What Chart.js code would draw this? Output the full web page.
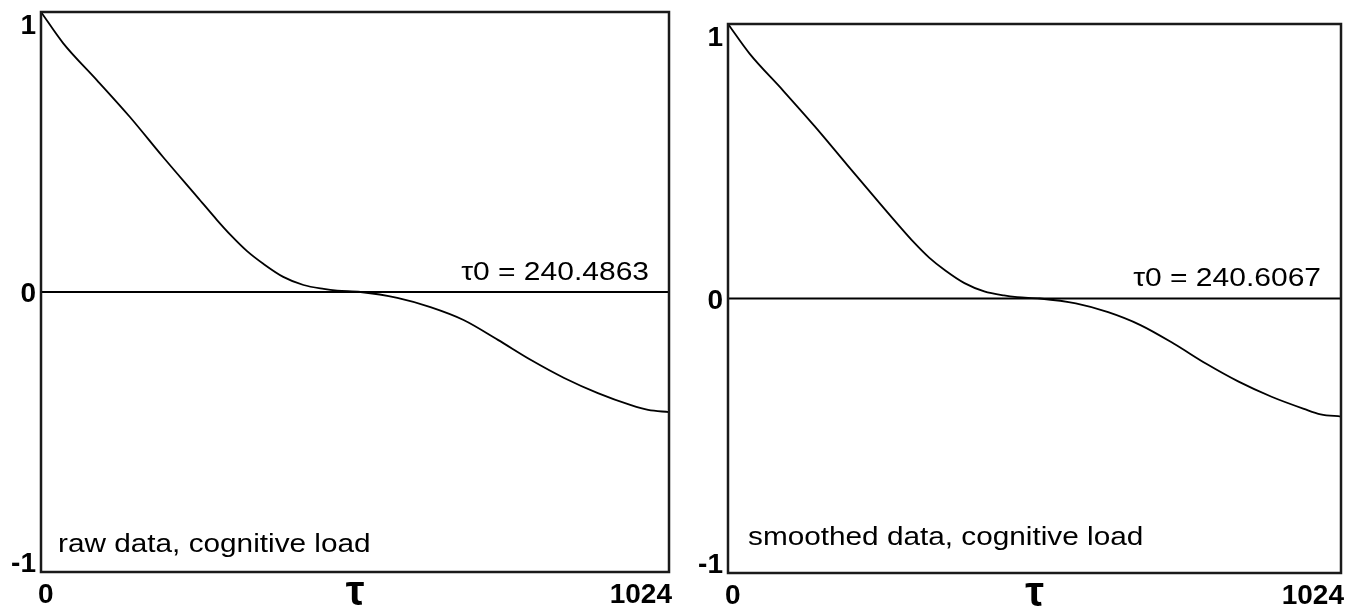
<!DOCTYPE html>
<html>
<head>
<meta charset="utf-8">
<script src="https://cdn.jsdelivr.net/npm/chart.js@4.4.1/dist/chart.umd.min.js"></script>
<style>
  body { margin: 0; background: #fff; }
  #wrap { position: relative; width: 1365px; height: 616px; }
  canvas { position: absolute; top: 0; }
  #acf-raw { left: 0; }
  #acf-smooth { left: 683px; }
</style>
</head>
<body>
<div id="wrap">
  <canvas id="acf-raw" width="700" height="616"></canvas>
  <canvas id="acf-smooth" width="682" height="616"></canvas>
</div>
<script>
// lag axis (tau) and autocorrelation values
const lagTau = [0, 36, 91, 145, 199, 255, 287, 309, 336, 363, 395, 428, 461, 483, 521, 581, 635, 689, 745, 799, 853, 908, 962, 990, 1024]
const rawAcf = [1.0, 0.889, 0.757, 0.625, 0.482, 0.339, 0.257, 0.204, 0.146, 0.100, 0.054, 0.025, 0.011, 0.005, 0.0, -0.021, -0.054, -0.1, -0.171, -0.243, -0.307, -0.361, -0.404, -0.421, -0.429]
const smoothAcf = [1.0, 0.892, 0.760, 0.627, 0.487, 0.343, 0.262, 0.208, 0.149, 0.102, 0.056, 0.026, 0.011, 0.005, 0.0, -0.018, -0.050, -0.097, -0.165, -0.238, -0.303, -0.358, -0.402, -0.422, -0.430]

const yTicks = [1, 0, -1]
const xTicks = [0, 1024]

const panels = [
    { id: 'acf-raw', values: rawAcf, tau0: 'τ0 = 240.4863', note: 'raw data, cognitive load',
      padding: { left: 41, top: 12, right: 31, bottom: 44 }, tauY: -12, noteX: 17, noteY: -20 },
    { id: 'acf-smooth', values: smoothAcf, tau0: 'τ0 = 240.6067', note: 'smoothed data, cognitive load',
      padding: { left: 45, top: 24, right: 24, bottom: 43 }, tauY: -13, noteX: 20, noteY: -28 }
]

const FONT = '"Liberation Sans", Arial, sans-serif'

// text stretched horizontally by sx
const drawText = (ctx, str, x, y, font, align, baseline, sx) => {
    ctx.save()
    ctx.translate(x, y)
    ctx.scale(sx || 1, 1)
    ctx.font = font
    ctx.textAlign = align
    ctx.textBaseline = baseline
    ctx.fillStyle = '#000'
    ctx.fillText(str, 0, 0)
    ctx.restore()
}

const framePlugin = {
    id: 'frame',
    beforeDatasetsDraw(chart, args, opts) {
        const { ctx, chartArea: a, scales: { x, y } } = chart
        ctx.save()
        // zero line
        ctx.strokeStyle = '#000'
        ctx.lineWidth = 2
        ctx.beginPath()
        ctx.moveTo(a.left, y.getPixelForValue(0))
        ctx.lineTo(a.right, y.getPixelForValue(0))
        ctx.stroke()
        ctx.restore()
    },
    afterDraw(chart, args, opts) {
        const { ctx, chartArea: a, scales: { x, y } } = chart
        ctx.save()
        ctx.strokeStyle = '#1a1a1a'
        ctx.lineWidth = 2.5
        ctx.strokeRect(a.left, a.top, a.right - a.left, a.bottom - a.top)
        ctx.restore()

        const tickFont = 'bold 28px ' + FONT
        yTicks.forEach(v => {
            const py = y.getPixelForValue(v)
            if(v == 1) drawText(ctx, '1', a.left - 5, py + 22, tickFont, 'right', 'alphabetic')
            else if(v == -1) drawText(ctx, '-1', a.left - 5, py, tickFont, 'right', 'alphabetic')
            else drawText(ctx, '0', a.left - 5, py + 10, tickFont, 'right', 'alphabetic')
        })
        xTicks.forEach(v => {
            const px = x.getPixelForValue(v)
            if(v == 0) drawText(ctx, '0', px - 3, a.bottom + 31, tickFont, 'left', 'alphabetic')
            else drawText(ctx, '1024', px + 3, a.bottom + 31, tickFont, 'right', 'alphabetic')
        })

        // axis name
        drawText(ctx, 'τ', x.getPixelForValue(512), a.bottom + 33, 'bold 42px ' + FONT, 'center', 'alphabetic')

        // crossing time and panel caption
        drawText(ctx, opts.tau0, a.right - 20, y.getPixelForValue(0) + opts.tauY, '25px ' + FONT, 'right', 'alphabetic', 1.2)
        drawText(ctx, opts.note, a.left + opts.noteX, a.bottom + opts.noteY, '25px ' + FONT, 'left', 'alphabetic', 1.19)
    }
}

const makeChart = panel => {
    const ctx = document.getElementById(panel.id)
    const data = {
        datasets: [{
            data: lagTau.map((t, i) => ({ x: t, y: panel.values[i] })),
            borderColor: '#000',
            borderWidth: 1.8,
            pointRadius: 0,
            cubicInterpolationMode: 'monotone',
            fill: false
        }]
    }

    new Chart(ctx, {
        type: 'line',
        data,
        plugins: [framePlugin],
        options: {
            responsive: false,
            animation: false,
            layout: { padding: panel.padding },
            scales: {
                x: { type: 'linear', min: 0, max: 1024, display: false },
                y: { min: -1, max: 1, display: false }
            },
            plugins: {
                legend: { display: false },
                tooltip: { enabled: false },
                frame: { tau0: panel.tau0, note: panel.note, tauY: panel.tauY, noteX: panel.noteX, noteY: panel.noteY }
            }
        }
    })
}

panels.forEach(makeChart)
</script>
</body>
</html>
